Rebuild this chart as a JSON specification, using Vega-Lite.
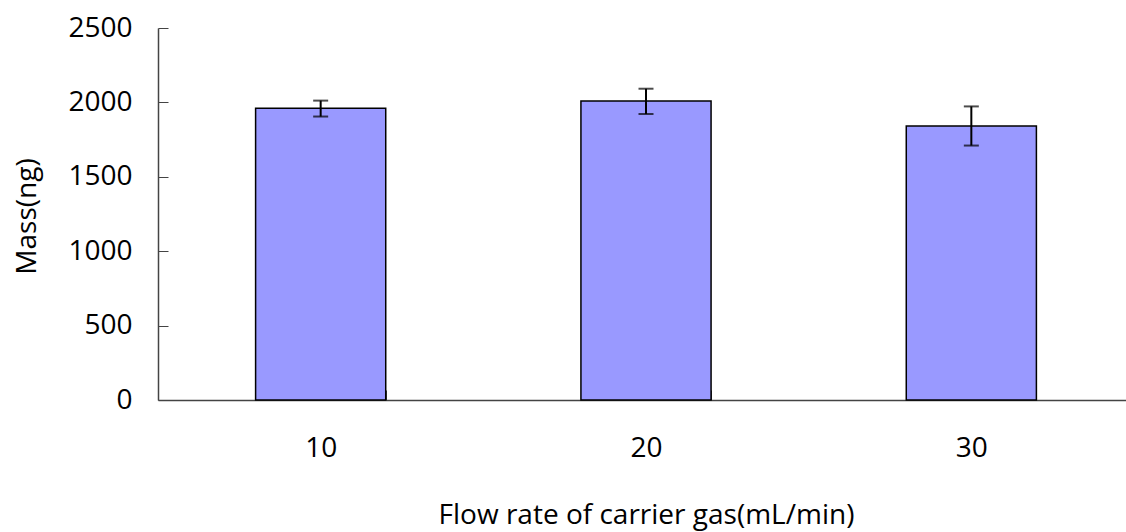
{
  "$schema": "https://vega.github.io/schema/vega-lite/v6.json",
  "width": 968,
  "height": 372,
  "autosize": {"type": "none"},
  "padding": {"left": 158, "top": 28, "right": 0, "bottom": 132},
  "background": "white",
  "config": {
    "view": {"stroke": null},
    "font": "Open Sans",
    "axis": {"grid": false, "domainColor": "#444444", "tickColor": "#444444", "domainWidth": 1.5, "tickWidth": 1, "labelColor": "black", "titleColor": "black", "labelFont": "Open Sans", "titleFont": "Open Sans", "titleFontWeight": "normal"}
  },
  "data": {"values": [
    {"flow": "10", "mass": 1960, "lo": 1905, "hi": 2012},
    {"flow": "20", "mass": 2010, "lo": 1922, "hi": 2092},
    {"flow": "30", "mass": 1842, "lo": 1710, "hi": 1973}
  ]},
  "encoding": {
    "x": {"field": "flow", "type": "nominal", "sort": null,
      "scale": {"range": [0, 976], "paddingInner": 0.6, "paddingOuter": 0.3},
      "axis": {"title": "Flow rate of carrier gas(mL/min)", "labelAngle": 0, "labelFontSize": 28, "labelPadding": 44, "labelBaseline": "top", "tickBand": "extent", "tickSize": -10, "titleFontSize": 28, "titleY": 123, "titleBaseline": "alphabetic", "titleX": 488, "titleAnchor": "middle"}}
  },
  "layer": [
    {"mark": {"type": "bar", "color": "#9999FF", "stroke": "black", "strokeWidth": 1.5},
     "encoding": {"y": {"field": "mass", "type": "quantitative",
        "scale": {"domain": [0, 2500], "nice": false},
        "axis": {"title": "Mass(ng)", "values": [0, 500, 1000, 1500, 2000, 2500], "format": "d", "labelFontSize": 28, "labelPadding": 36, "tickSize": -10, "titleFontSize": 28, "titleX": -131, "titleY": 188, "titleAlign": "center", "titleBaseline": "middle", "titleAngle": -90}}}},
    {"mark": {"type": "rule", "color": "black", "strokeWidth": 2},
     "encoding": {"y": {"field": "lo", "type": "quantitative"}, "y2": {"field": "hi"}}},
    {"mark": {"type": "tick", "color": "black", "size": 15, "thickness": 2},
     "encoding": {"y": {"field": "lo", "type": "quantitative"}}},
    {"mark": {"type": "tick", "color": "black", "size": 15, "thickness": 2},
     "encoding": {"y": {"field": "hi", "type": "quantitative"}}}
  ]
}
